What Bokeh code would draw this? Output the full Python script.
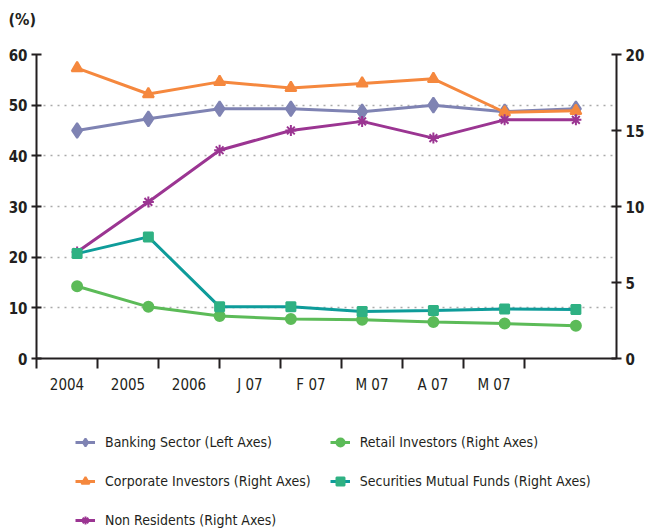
from bokeh.plotting import figure
from bokeh.layouts import column
from bokeh.models import Range1d, LinearAxis, FixedTicker, Legend, LegendItem
from bokeh.embed import file_html
from bokeh.resources import INLINE

categories = ["2004", "2005", "2006", "J 07", "F 07", "M 07", "A 07", "M 07"]
banking = [45.0, 47.3, 49.3, 49.3, 48.7, 50.0, 48.7, 49.3]          # left axis
corporate = [19.1, 17.4, 18.2, 17.8, 18.1, 18.4, 16.2, 16.3]        # right axis
non_residents = [7.0, 10.3, 13.7, 15.0, 15.6, 14.5, 15.7, 15.7]     # right axis
mutual_funds = [6.9, 8.0, 3.4, 3.4, 3.1, 3.15, 3.25, 3.22]          # right axis
retail = [4.75, 3.4, 2.8, 2.6, 2.55, 2.4, 2.3, 2.15]                # right axis
left_ticks = [0, 10, 20, 30, 40, 50, 60]
right_ticks = [0, 5, 10, 15, 20]

FONT = "DejaVu Sans Condensed"
INK = "#231f20"

x = list(range(len(categories)))

p = figure(width=647, height=400, x_range=Range1d(-0.57, 7.57), y_range=Range1d(0, 60),
           output_backend="svg", toolbar_location=None,
           min_border_left=36, min_border_right=29, min_border_top=54, min_border_bottom=42)
p.extra_y_ranges = {"right": Range1d(0, 20)}
p.outline_line_color = None

p.title.text = "(%)\n "
p.title.text_font = FONT
p.title.text_font_size = "16px"
p.title.text_font_style = "bold"
p.title.text_color = INK
p.title.text_line_height = 1.2
p.title.offset = -28
p.title.standoff = 5

# x axis: labels and separators
step = 0.856
start = -0.57
label_pos = [round(start + (k + 0.5) * step, 4) for k in range(len(categories))]
bound_pos = [round(start + k * step, 4) for k in range(len(categories) + 1)]
xa = p.xaxis[0]
xa.ticker = FixedTicker(ticks=label_pos, minor_ticks=bound_pos)
xa.major_label_overrides = {pos: lab for pos, lab in zip(label_pos, categories)}
xa.major_tick_line_color = None
xa.major_tick_in = 0
xa.major_tick_out = 10
xa.minor_tick_in = 0
xa.minor_tick_out = 10
xa.minor_tick_line_width = 2
xa.minor_tick_line_color = INK
xa.axis_line_width = 2
xa.axis_line_color = INK
xa.major_label_text_font = FONT
xa.major_label_text_font_size = "15px"
xa.major_label_text_color = INK
xa.major_label_standoff = 7

ya = p.yaxis[0]
ya.ticker = FixedTicker(ticks=left_ticks)
ra = LinearAxis(y_range_name="right", ticker=FixedTicker(ticks=right_ticks))
p.add_layout(ra, "right")
for ax in (ya, ra):
    ax.axis_line_width = 2
    ax.axis_line_color = INK
    ax.major_tick_line_width = 2
    ax.major_tick_line_color = INK
    ax.major_tick_in = 5
    ax.major_tick_out = 5
    ax.minor_tick_line_color = None
    ax.major_label_text_font = FONT
    ax.major_label_text_font_size = "15px"
    ax.major_label_text_font_style = "bold"
    ax.major_label_text_color = INK
    ax.major_label_standoff = 4

p.xgrid.visible = False
p.ygrid.ticker = FixedTicker(ticks=left_ticks[1:])
p.ygrid.grid_line_color = "#aaaaaa"
p.ygrid.grid_line_dash = "2 5"
p.ygrid.grid_line_width = 1.5

# legend panel: a second figure under the chart whose own glyphs lie outside its view
lg = figure(width=647, height=130, x_range=Range1d(1000, 1001), y_range=Range1d(1000, 1001),
            output_backend="svg", toolbar_location=None, x_axis_type=None, y_axis_type=None,
            min_border=0)
lg.outline_line_color = None
lg.grid.visible = False

items = []

def series(vals, color, marker, size, label, rng="default", mcolor=None):
    kw = {} if rng == "default" else {"y_range_name": rng}
    mc = mcolor or color
    p.line(x, vals, line_color=color, line_width=3, **kw)
    p.scatter(x, vals, marker=marker, size=size, fill_color=mc, line_color=mc, line_width=2, **kw)
    l = lg.line(x, vals, line_color=color, line_width=3)
    s = lg.scatter(x, vals, marker=marker, size=size, fill_color=mc, line_color=mc, line_width=2)
    items.append(LegendItem(label=label, renderers=[l, s]))

series(banking, "#7f83b3", "diamond", 15, "Banking Sector (Left Axes)")
series(corporate, "#f5883e", "triangle", 11, "Corporate Investors (Right Axes)", "right")
series(non_residents, "#9b3592", "asterisk", 11, "Non Residents (Right Axes)", "right")
series(retail, "#5cbb58", "circle", 10, "Retail Investors (Right Axes)", "right")
series(mutual_funds, "#0e9c9a", "square", 9, "Securities Mutual Funds (Right Axes)", "right", "#2fb183")

legend = Legend(items=items, ncols=2, location=(39, 0))
legend.margin = 0
legend.padding = 0
legend.border_line_color = None
legend.background_fill_alpha = 0
legend.glyph_width = 20
legend.glyph_height = 20
legend.label_height = 20
legend.label_standoff = 10
legend.spacing = 19
legend.label_text_font = FONT
legend.label_text_font_size = "14px"
legend.label_text_color = INK
lg.add_layout(legend, "center")

layout = column(p, lg, spacing=0)
open("out.html", "w").write(file_html(layout, INLINE))
